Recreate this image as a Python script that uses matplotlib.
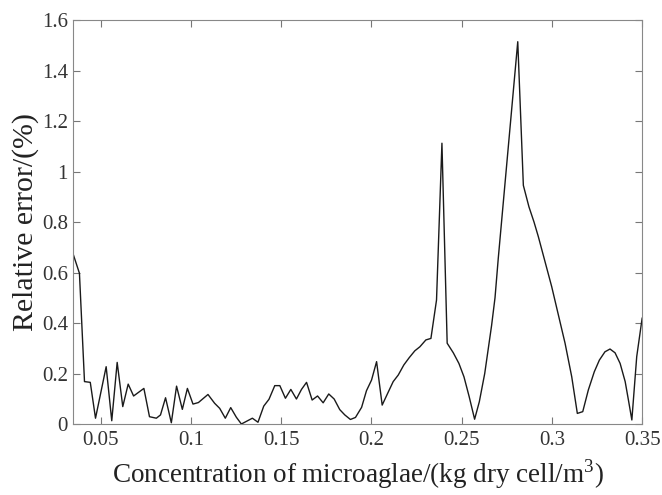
import numpy as np
import matplotlib
matplotlib.use("Agg")
import matplotlib.pyplot as plt

plt.rcParams["font.family"] = ["Liberation Serif", "DejaVu Serif"]
plt.rcParams["mathtext.fontset"] = "custom"
plt.rcParams["mathtext.rm"] = "Liberation Serif"

# concentration (kg dry cell/m^3) and relative error (%)
conc = [0.035, 0.0383, 0.0411, 0.0443, 0.0472, 0.0531, 0.0562, 0.0592, 0.0623,
        0.0653, 0.0683, 0.074, 0.0771, 0.0809, 0.0832, 0.086, 0.0892, 0.0921,
        0.0953, 0.0981, 0.1012, 0.1042, 0.1095, 0.1132, 0.116, 0.1191, 0.1221,
        0.1252, 0.128, 0.1341, 0.1372, 0.1404, 0.1433, 0.1465, 0.1493, 0.1524,
        0.1554, 0.1585, 0.1613, 0.1641, 0.1672, 0.1702, 0.1733, 0.1764, 0.1794,
        0.1825, 0.1853, 0.1884, 0.1912, 0.1946, 0.1973, 0.2001, 0.2029, 0.206,
        0.209, 0.2121, 0.2149, 0.218, 0.221, 0.2241, 0.2269, 0.2302, 0.233,
        0.2361, 0.2391, 0.242, 0.2454, 0.2485, 0.2513, 0.2542, 0.2572, 0.2598,
        0.2628, 0.2666, 0.2685, 0.2703, 0.2811, 0.2842, 0.2873, 0.2901, 0.2925,
        0.2962, 0.2999, 0.3036, 0.3073, 0.311, 0.3141, 0.3171, 0.3202, 0.3235,
        0.3263, 0.3294, 0.3322, 0.335, 0.3378, 0.3406, 0.3424, 0.3443, 0.347,
        0.35]
rel_err = [0.669, 0.597, 0.168, 0.165, 0.023, 0.227, 0.013, 0.244, 0.069,
           0.158, 0.111, 0.141, 0.029, 0.023, 0.036, 0.104, 0.005, 0.150,
           0.058, 0.141, 0.079, 0.085, 0.117, 0.082, 0.062, 0.023, 0.065,
           0.027, 0.0, 0.023, 0.007, 0.071, 0.098, 0.152, 0.152, 0.102,
           0.137, 0.099, 0.137, 0.165, 0.095, 0.111, 0.084, 0.119, 0.099,
           0.057, 0.036, 0.018, 0.026, 0.066, 0.132, 0.174, 0.247, 0.075,
           0.121, 0.168, 0.194, 0.234, 0.263, 0.290, 0.306, 0.333, 0.339,
           0.491, 1.112, 0.320, 0.282, 0.240, 0.187, 0.108, 0.019, 0.088,
           0.20, 0.39, 0.50, 0.656, 1.514, 0.945, 0.86, 0.80, 0.742,
           0.643, 0.544, 0.432, 0.320, 0.187, 0.042, 0.049, 0.135, 0.207,
           0.253, 0.286, 0.297, 0.282, 0.240, 0.168, 0.095, 0.016, 0.267,
           0.419]

xticks = [0.05, 0.1, 0.15, 0.2, 0.25, 0.3, 0.35]
xticklabels = ["0.05", "0.1", "0.15", "0.2", "0.25", "0.3", "0.35"]
yticks = [0, 0.2, 0.4, 0.6, 0.8, 1.0, 1.2, 1.4, 1.6]
yticklabels = ["0", "0.2", "0.4", "0.6", "0.8", "1", "1.2", "1.4", "1.6"]

fig = plt.figure(figsize=(6.62, 4.95), dpi=100)
ax = fig.add_axes([0.111, 0.1434, 0.859, 0.8162])

ax.plot(conc, rel_err, color="#1a1a1a", linewidth=1.0)

ax.set_xlim(0.035, 0.35)
ax.set_ylim(0, 1.6)
ax.set_xticks(xticks)
ax.set_xticklabels(xticklabels)
ax.set_yticks(yticks)
ax.set_yticklabels(yticklabels)

ax.tick_params(direction="in", top=True, right=True, length=5,
               width=0.8, color="#777777", labelsize=15, labelcolor="#333333")
ax.tick_params(axis="x", pad=5)
ax.tick_params(axis="y", pad=4)
for sp in ax.spines.values():
    sp.set_color("#888888")
    sp.set_linewidth(0.8)

ax.set_xlabel("Concentration of microaglae/(kg dry cell/m$^3$)",
              fontsize=19.5, color="#222222", labelpad=5)
ax.set_ylabel("Relative error/(%)", fontsize=21.5, color="#222222", labelpad=2)

fig.savefig("out.png", dpi=100)
